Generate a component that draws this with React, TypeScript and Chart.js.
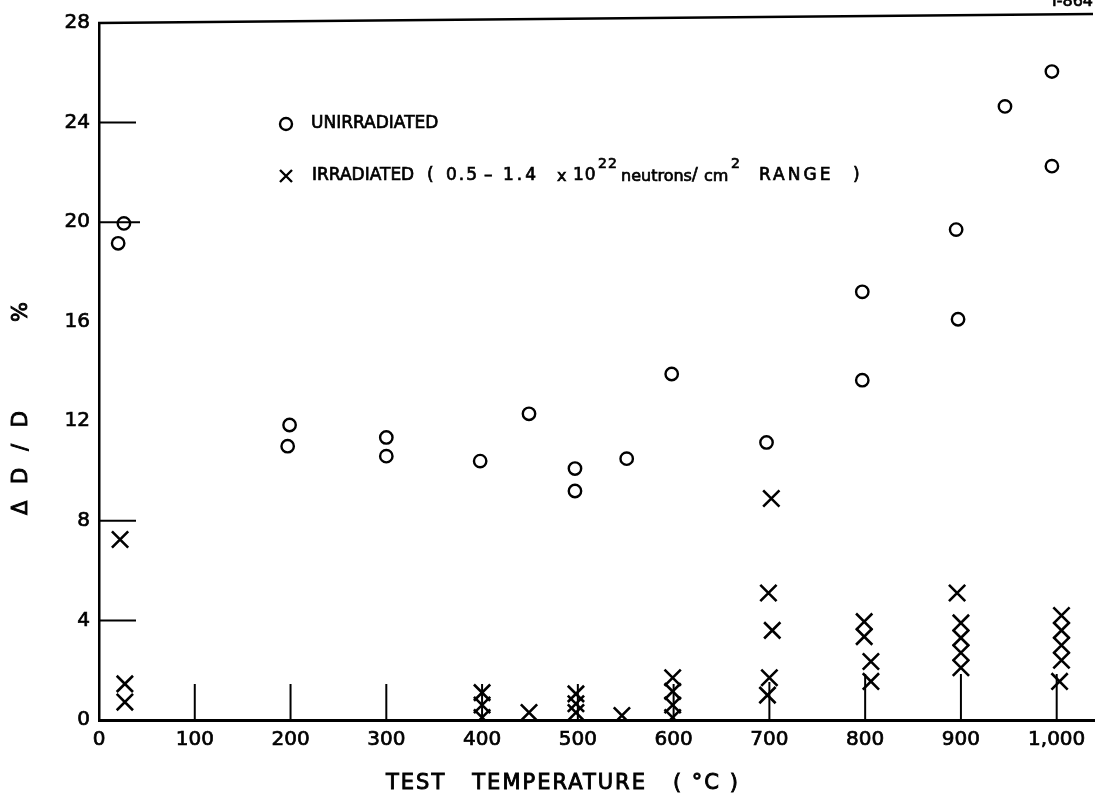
import React, { useEffect, useRef } from "react";
import { Chart, registerables } from "chart.js";

Chart.register(...registerables);

// ---- data (temperature °C, ΔD/D %) ----
const unirrTemp = [20, 26, 199, 197, 300, 300, 398, 449, 497, 497, 551, 598, 697, 797, 797, 895, 897, 946, 995, 995];
const unirrVal = [19.15, 19.95, 11.85, 11.0, 11.35, 10.6, 10.4, 12.3, 10.1, 9.2, 10.5, 13.9, 11.15, 17.2, 13.65, 19.7, 16.1, 24.65, 26.05, 22.25];

const irrTemp = [22, 27, 27, 400, 400, 400, 449, 498, 498, 498, 546, 599, 599, 599, 599, 702, 699, 703, 700, 698, 799, 799, 806, 806, 896, 900, 900, 900, 900, 1005, 1005, 1005, 1005, 1003];
const irrVal = [7.25, 1.45, 0.72, 1.1, 0.6, 0.1, 0.3, 1.05, 0.65, 0.3, 0.18, 1.7, 1.15, 0.6, 0.1, 8.9, 5.1, 3.6, 1.7, 1.0, 3.95, 3.35, 2.35, 1.55, 5.1, 3.9, 3.3, 2.7, 2.1, 4.2, 3.6, 3.0, 2.4, 1.55];

const xTickValues = [0, 100, 200, 300, 400, 500, 600, 700, 800, 900, 1000];
const xTickLabels = ["0", "100", "200", "300", "400", "500", "600", "700", "800", "900", "1,000"];
const yInnerTicks = [4, 8, 20, 24];
const xInnerTicks = [100, 200, 300, 400, 500, 600, 700, 800, 900, 1000];

const xTitle = "TEST   TEMPERATURE   ( °C )";
const yTitle = "Δ D / D";
const yTitleUnit = "%";
const legendUnirr = "UNIRRADIATED";
const cornerLabel = "I-864";

const FONT = "'DejaVu Sans', sans-serif";

function txt(ctx: any, s: string, x: number, y: number, w = 0.7) {
  ctx.fillText(s, x, y);
  ctx.lineWidth = w;
  ctx.strokeText(s, x, y);
}

const decor = {
  id: "decor",
  beforeDatasetsDraw(chart: any) {
    const { ctx, chartArea, scales } = chart;
    const x = scales.x;
    const y = scales.y;
    ctx.save();
    ctx.strokeStyle = "#000";
    ctx.lineCap = "butt";
    // top frame line (slightly tilted like the scan)
    ctx.lineWidth = 2.5;
    ctx.beginPath();
    ctx.moveTo(chartArea.left - 1, chartArea.top);
    ctx.lineTo(1093, chartArea.top - 9);
    ctx.stroke();
    // inner y ticks
    ctx.lineWidth = 2;
    for (const v of yInnerTicks) {
      const py = y.getPixelForValue(v);
      ctx.beginPath();
      ctx.moveTo(chartArea.left, py);
      ctx.lineTo(chartArea.left + (v === 20 ? 41 : 37), py);
      ctx.stroke();
    }
    // inner x ticks
    for (const v of xInnerTicks) {
      const px = x.getPixelForValue(v);
      const len = v >= 800 ? 46 : v === 700 ? 38 : 36;
      ctx.beginPath();
      ctx.moveTo(px, chartArea.bottom);
      ctx.lineTo(px, chartArea.bottom - len);
      ctx.stroke();
    }
    ctx.restore();
  },
  afterDraw(chart: any) {
    const { ctx } = chart;
    ctx.save();
    ctx.fillStyle = "#000";
    ctx.strokeStyle = "#000";
    // corner label (mostly cut off at the top)
    ctx.font = `16px ${FONT}`;
    ctx.textAlign = "right";
    ctx.textBaseline = "alphabetic";
    txt(ctx, cornerLabel, 1093, 6);

    // x title
    ctx.font = `21px ${FONT}`;
    (ctx as any).letterSpacing = "2px";
    ctx.textAlign = "left";
    ctx.textBaseline = "middle";
    txt(ctx, xTitle, 386, 784, 0.9);

    // y title
    ctx.save();
    ctx.translate(22, 0);
    ctx.rotate(-Math.PI / 2);
    (ctx as any).letterSpacing = "5px";
    ctx.font = `21px ${FONT}`;
    txt(ctx, yTitle, -515, 0, 0.9);
    (ctx as any).letterSpacing = "0px";
    txt(ctx, yTitleUnit, -322, 0, 0.9);
    ctx.restore();

    // legend
    ctx.lineWidth = 2.4;
    ctx.beginPath();
    ctx.arc(286, 124, 6, 0, Math.PI * 2);
    ctx.stroke();
    ctx.beginPath();
    ctx.moveTo(280, 170);
    ctx.lineTo(292, 182);
    ctx.moveTo(292, 170);
    ctx.lineTo(280, 182);
    ctx.stroke();

    (ctx as any).letterSpacing = "0px";
    ctx.font = `17px ${FONT}`;
    ctx.textAlign = "left";
    ctx.textBaseline = "middle";
    txt(ctx, legendUnirr, 311, 124);

    const ly = 176;
    const segs: { t: string; x: number; size: number; dy: number; ls: number }[] = [
      { t: "IRRADIATED", x: 312, size: 17, dy: 0, ls: 0 },
      { t: "(", x: 427, size: 17, dy: 0, ls: 0 },
      { t: "0.5", x: 446, size: 17, dy: 0, ls: 2 },
      { t: "–", x: 484, size: 17, dy: 0, ls: 0 },
      { t: "1.4", x: 503, size: 17, dy: 0, ls: 3 },
      { t: "x", x: 557, size: 16, dy: 1, ls: 0 },
      { t: "10", x: 573, size: 17, dy: 0, ls: 1 },
      { t: "22", x: 598, size: 14, dy: -12, ls: 1 },
      { t: "neutrons", x: 621, size: 16, dy: 1, ls: 0 },
      { t: "/", x: 692, size: 17, dy: 0, ls: 0 },
      { t: "cm", x: 704, size: 16, dy: 1, ls: 0 },
      { t: "2", x: 731, size: 14, dy: -12, ls: 0 },
      { t: "RANGE", x: 759, size: 17, dy: 0, ls: 3 },
      { t: ")", x: 853, size: 17, dy: 0, ls: 0 },
    ];
    for (const s of segs) {
      ctx.font = `${s.size}px ${FONT}`;
      (ctx as any).letterSpacing = `${s.ls}px`;
      txt(ctx, s.t, s.x, ly + s.dy);
    }
    ctx.restore();
  },
};

export default function App() {
  const ref = useRef<HTMLCanvasElement | null>(null);
  useEffect(() => {
    document.body.style.margin = "0";
    const canvas = ref.current!;
    const chart = new Chart(canvas, {
      type: "scatter",
      data: {
        datasets: [
          {
            label: "UNIRRADIATED",
            data: unirrTemp.map((t, i) => ({ x: t, y: unirrVal[i] })),
            pointStyle: "circle",
            pointRadius: 6.2,
            pointHoverRadius: 6.2,
            borderWidth: 2.4,
            borderColor: "#000",
            backgroundColor: "rgba(0,0,0,0)",
          },
          {
            label: "IRRADIATED",
            data: irrTemp.map((t, i) => ({ x: t, y: irrVal[i] })),
            pointStyle: "crossRot",
            pointRadius: 11.5,
            pointHoverRadius: 11.5,
            borderWidth: 2.6,
            borderColor: "#000",
            backgroundColor: "#000",
          },
        ],
      },
      options: {
        responsive: false,
        animation: false,
        events: [],
        layout: { autoPadding: false, padding: { top: 23, left: 0, right: 0, bottom: 0 } },
        plugins: { legend: { display: false }, tooltip: { enabled: false } },
        scales: {
          x: {
            type: "linear",
            position: "bottom",
            min: 0,
            max: 1040,
            afterBuildTicks: (s: any) => {
              s.ticks = xTickValues.map((v) => ({ value: v }));
            },
            afterFit: (s: any) => {
              s.height = 79;
              s.paddingLeft = 0;
              s.paddingRight = 0;
            },
            ticks: {
              autoSkip: false,
              maxRotation: 0,
              padding: 8,
              color: "#000",
              textStrokeColor: "#000",
              textStrokeWidth: 0.7,
              font: { family: FONT, size: 20 },
              callback: (v: any) => {
                const i = xTickValues.indexOf(Number(v));
                return i >= 0 ? xTickLabels[i] : "";
              },
            },
            grid: { display: true, drawOnChartArea: false, drawTicks: false },
            border: { display: true, color: "#000", width: 3 },
          },
          y: {
            type: "linear",
            min: 0,
            max: 28,
            afterFit: (s: any) => {
              s.width = 99;
              s.paddingTop = 0;
              s.paddingBottom = 0;
            },
            ticks: {
              stepSize: 4,
              padding: 9,
              color: "#000",
              textStrokeColor: "#000",
              textStrokeWidth: 0.7,
              font: { family: FONT, size: 20 },
            },
            grid: { display: true, drawOnChartArea: false, drawTicks: false },
            border: { display: true, color: "#000", width: 2.5 },
          },
        },
      },
      plugins: [decor],
    } as any);
    return () => chart.destroy();
  }, []);
  return (
    <canvas
      ref={ref}
      width={1095}
      height={799}
      style={{ display: "block", position: "absolute", left: 0, top: 0, background: "#fff" }}
    />
  );
}
